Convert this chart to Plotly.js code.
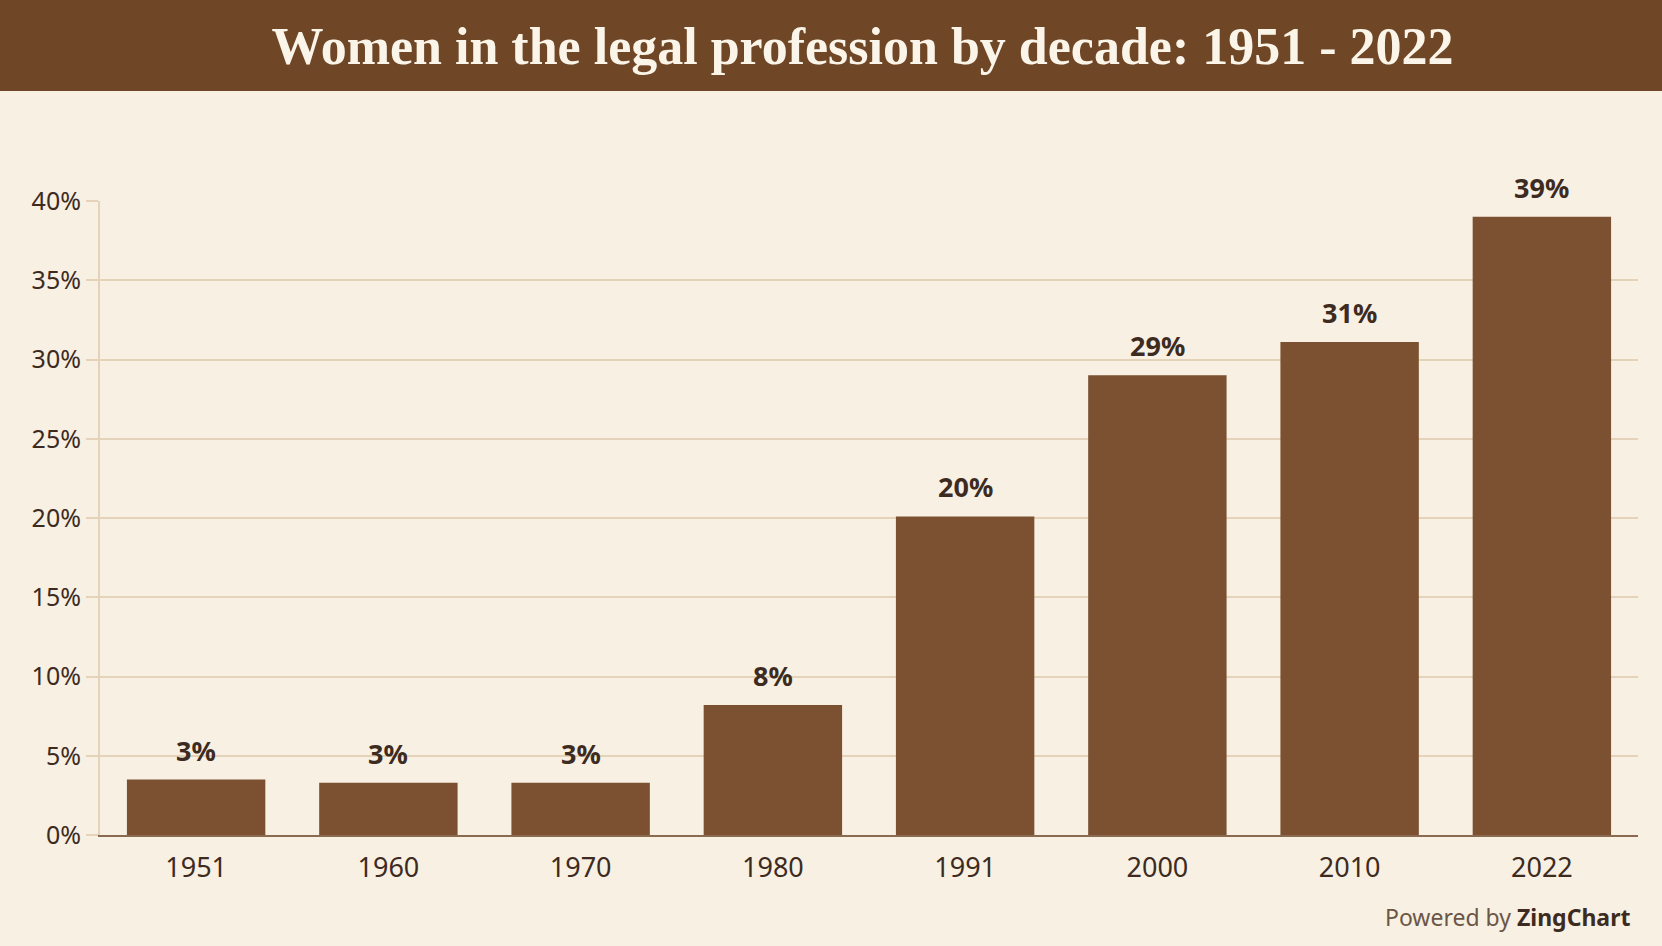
<!DOCTYPE html>
<html>
<head>
<meta charset="utf-8">
<script src="https://cdn.plot.ly/plotly-3.0.1.min.js"></script>
<style>
  html, body { margin: 0; padding: 0; background: #f8f0e3; }
  #chart { width: 1662px; height: 946px; }
</style>
</head>
<body>
<div id="chart"></div>
<script>
// data
var years = ['1951', '1960', '1970', '1980', '1991', '2000', '2010', '2022'];
var womenShare = [3.5, 3.3, 3.3, 8.2, 20.1, 29.0, 31.1, 39.0];
var shareLabels = ['3%', '3%', '3%', '8%', '20%', '29%', '31%', '39%'];

var bgColor = '#f8f0e3';
var barColor = '#7b5132';
var headColor = '#6f4626';
var inkColor = '#3d2b1f';
var gridColor = '#e4d3b9';

function buildPlot(id) {
	var plotDiv = document.getElementById(id);

	var data = [{
		type: 'bar',
		x: years,
		y: womenShare,
		marker: {color: barColor, line: {width: 0}},
		hoverinfo: 'skip'
	}];

	// value labels sit a bit above each bar
	// (x given as category index, a year string would be read as a number)
	var annotations = [];
	for (var i = 0; i < years.length; i++) {
		annotations.push({
			x: i,
			y: womenShare[i],
			xref: 'x', yref: 'y',
			text: '<b>' + shareLabels[i] + '</b>',
			showarrow: false,
			yanchor: 'bottom',
			yshift: 9,
			font: {family: 'Noto Sans', size: 27, color: inkColor}
		});
	}

	// credit line bottom right
	annotations.push({
		xref: 'paper', yref: 'paper',
		x: 0.996, y: -0.13,
		xanchor: 'right', yanchor: 'middle',
		showarrow: false,
		text: '<span style="color:#6b5646">Powered by </span><b>ZingChart</b>',
		font: {family: 'Noto Sans', size: 23, color: inkColor}
	});

	var layout = {
		width: 1662,
		height: 946,
		paper_bgcolor: bgColor,
		plot_bgcolor: bgColor,
		margin: {l: 100, r: 24, t: 201, b: 111},
		bargap: 0.28,
		showlegend: false,
		title: {
			text: '<b>Women in the legal profession by decade: 1951 - 2022</b>',
			x: 0.519, xanchor: 'center',
			y: 1 - 46 / 946, yanchor: 'middle', yref: 'container',
			font: {family: 'Liberation Serif', size: 52, color: '#fbf4e8'}
		},
		xaxis: {
			type: 'category',
			range: [-0.5, 7.5],
			showgrid: false,
			showline: true,
			linecolor: '#8a6b52',
			linewidth: 2,
			ticks: '',
			ticklabelstandoff: 8,
			tickfont: {family: 'Noto Sans', size: 27, color: inkColor},
			fixedrange: true
		},
		yaxis: {
			range: [0, 40],
			dtick: 5,
			ticksuffix: '%',
			showgrid: true,
			gridcolor: gridColor,
			gridwidth: 2,
			zeroline: false,
			showline: true,
			linecolor: gridColor,
			linewidth: 2,
			ticks: 'outside',
			ticklen: 12,
			tickwidth: 2,
			tickcolor: gridColor,
			tickfont: {family: 'Noto Sans', size: 25, color: inkColor},
			fixedrange: true
		},
		shapes: [{
			// header band behind the title
			type: 'rect',
			xref: 'paper', yref: 'paper',
			x0: -0.1, x1: 1.1,
			y0: (835 - 91) / 634, y1: 1.4,
			fillcolor: headColor,
			line: {width: 0},
			layer: 'below'
		}],
		annotations: annotations
	};

	Plotly.newPlot(plotDiv, data, layout, {displayModeBar: false, staticPlot: true});
}

buildPlot('chart');
</script>
</body>
</html>
